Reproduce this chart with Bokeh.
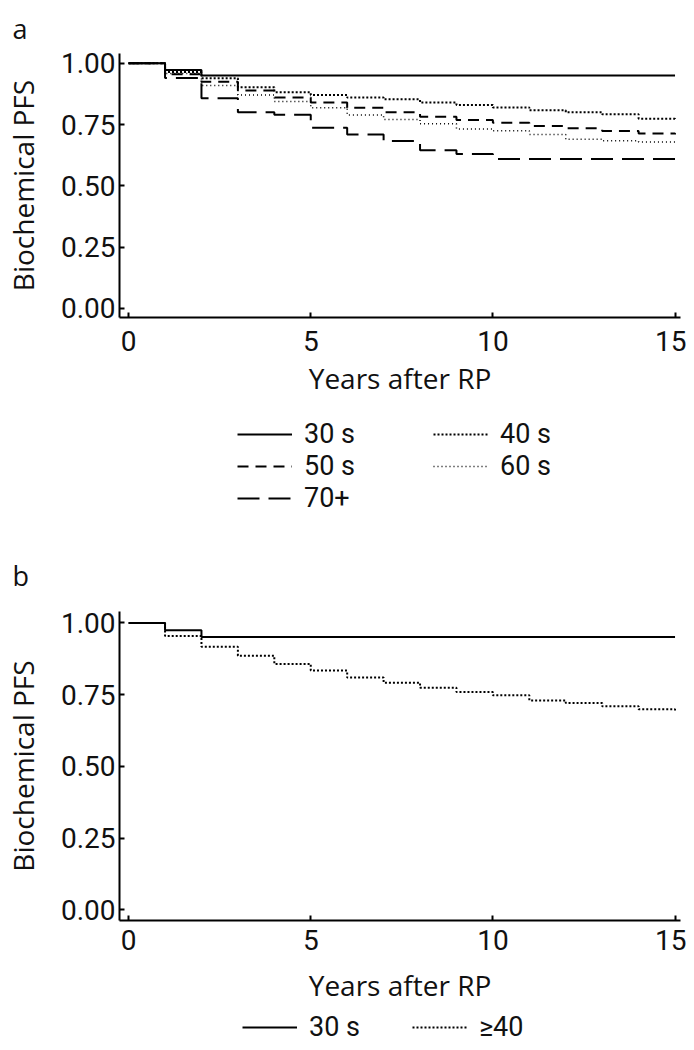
from bokeh.plotting import figure
from bokeh.layouts import column
from bokeh.models import Legend, LegendItem, Range1d, FixedTicker, PrintfTickFormatter
from bokeh.embed import file_html
from bokeh.resources import INLINE

# ---- data ----
years = [0, 1, 2, 3, 4, 5, 6, 7, 8, 9, 10, 11, 12, 13, 14, 15]

a_30s = [1.0, 0.973, 0.95, 0.95, 0.95, 0.95, 0.95, 0.95, 0.95, 0.95, 0.95, 0.95, 0.95, 0.95, 0.95, 0.95]
a_40s = [1.0, 0.965, 0.939, 0.902, 0.882, 0.871, 0.86, 0.853, 0.84, 0.83, 0.82, 0.808, 0.80, 0.792, 0.774, 0.768]
a_50s = [1.0, 0.955, 0.925, 0.889, 0.861, 0.84, 0.819, 0.80, 0.782, 0.769, 0.758, 0.744, 0.735, 0.724, 0.714, 0.71]
a_60s = [1.0, 0.958, 0.909, 0.871, 0.844, 0.819, 0.789, 0.771, 0.753, 0.732, 0.725, 0.71, 0.69, 0.684, 0.679, 0.667]
a_70p = [1.0, 0.94, 0.857, 0.80, 0.79, 0.737, 0.71, 0.683, 0.645, 0.63, 0.61, 0.61, 0.61, 0.61, 0.61, 0.61]

b_30s = [1.0, 0.975, 0.951, 0.951, 0.951, 0.951, 0.951, 0.951, 0.951, 0.951, 0.951, 0.951, 0.951, 0.951, 0.951, 0.951]
b_40p = [1.0, 0.955, 0.917, 0.886, 0.857, 0.834, 0.81, 0.792, 0.774, 0.759, 0.748, 0.73, 0.721, 0.71, 0.699, 0.69]

labels_a = ["30 s", "40 s", "50 s", "60 s", "70+"]
labels_b = ["30 s", "\u226540"]

x_ticks = [0, 5, 10, 15]
y_ticks = [0.0, 0.25, 0.5, 0.75, 1.0]

TICK_FONT = "Roboto"
TEXT_FONT = "Open Sans"
LEGEND_FONT = "Roboto"
INK = "#111111"

STYLE = {
    "30 s": dict(line_width=2, line_dash="solid"),
    "40 s": dict(line_width=2, line_dash="2 2"),
    "50 s": dict(line_width=2, line_dash="11 7"),
    "60 s": dict(line_width=1.5, line_dash="1 3"),
    "70+": dict(line_width=2, line_dash="22 9"),
    "\u226540": dict(line_width=2, line_dash="2 2"),
}


def base_fig(letter, frame_h, top, bottom, title_standoff, tick_standoff, label_standoff):
    p = figure(frame_width=561, frame_height=frame_h, output_backend="svg", toolbar_location=None,
               x_range=Range1d(-0.25, 15.15), y_range=Range1d(-0.037, 1.04),
               min_border_left=111, min_border_right=6,
               min_border_top=top, min_border_bottom=bottom)
    p.outline_line_color = None
    p.grid.visible = False
    p.background_fill_color = "white"
    p.border_fill_color = "white"
    p.title.text = letter
    p.title.align = "left"
    p.title.offset = -107
    p.title.text_font = TEXT_FONT
    p.title.text_font_size = "27px"
    p.title.text_font_style = "normal"
    p.title.text_color = INK
    p.title.standoff = title_standoff
    for ax in (p.xaxis[0], p.yaxis[0]):
        ax.axis_line_width = 2
        ax.axis_line_color = "black"
        ax.major_tick_in = 5
        ax.major_tick_out = 0
        ax.major_tick_line_width = 2
        ax.major_tick_line_color = "black"
        ax.minor_tick_line_color = None
        ax.major_label_text_font = TICK_FONT
        ax.major_label_text_font_size = "28px"
        ax.major_label_text_color = INK
        ax.axis_label_text_font = TEXT_FONT
        ax.axis_label_text_font_size = "28px"
        ax.axis_label_text_font_style = "normal"
        ax.axis_label_text_color = INK
    p.xaxis.ticker = FixedTicker(ticks=x_ticks)
    p.yaxis.ticker = FixedTicker(ticks=y_ticks)
    p.yaxis.formatter = PrintfTickFormatter(format="%.2f")
    p.xaxis.axis_label = "Years after RP"
    p.yaxis.axis_label = "Biochemical PFS"
    p.xaxis.major_label_standoff = tick_standoff
    p.yaxis.major_label_standoff = 4
    p.xaxis.axis_label_standoff = label_standoff
    p.yaxis.axis_label_standoff = 16
    return p


def legend_fig(height, names, series, loc, ncols, label_width):
    # a strip under the chart that only carries the legend; its ranges keep
    # the duplicated curves out of view so only the legend samples show
    f = figure(width=678, height=height, output_backend="svg", toolbar_location=None,
               x_axis_type=None, y_axis_type=None, min_border=0,
               x_range=Range1d(-0.25, 15.15), y_range=Range1d(5, 6))
    f.outline_line_color = None
    f.background_fill_color = "white"
    f.border_fill_color = "white"
    items = []
    for name, ys in zip(names, series):
        r = f.step(years, ys, mode="after", line_color="black", **STYLE[name])
        items.append(LegendItem(label=name, renderers=[r]))
    leg = Legend(items=items, location=loc, orientation="horizontal", ncols=ncols,
                 glyph_width=55, glyph_height=28, label_height=28, label_width=label_width,
                 label_standoff=12, spacing=0, padding=0, margin=0,
                 label_text_font=LEGEND_FONT, label_text_font_size="27px",
                 label_text_color=INK,
                 border_line_color=None, background_fill_alpha=0)
    f.add_layout(leg)
    return f


# ---- panel a ----
pa = base_fig("a", 264, 51, 91, 14, 13, 5)
for name, ys in zip(labels_a, [a_30s, a_40s, a_50s, a_60s, a_70p]):
    pa.step(years, ys, mode="after", line_color="black", **STYLE[name])
la = legend_fig(106, labels_a, [a_30s, a_40s, a_50s, a_60s, a_70p], (118, 0), 2, 129)

# ---- panel b ----
pb = base_fig("b", 309, 97, 79, 35, 9, 13)
for name, ys in zip(labels_b, [b_30s, b_40p]):
    pb.step(years, ys, mode="after", line_color="black", **STYLE[name])
lb = legend_fig(37, labels_b, [b_30s, b_40p], (123, 0), 2, 103)

layout = column(pa, la, pb, lb, spacing=0)
open("out.html", "w").write(file_html(layout, INLINE))
